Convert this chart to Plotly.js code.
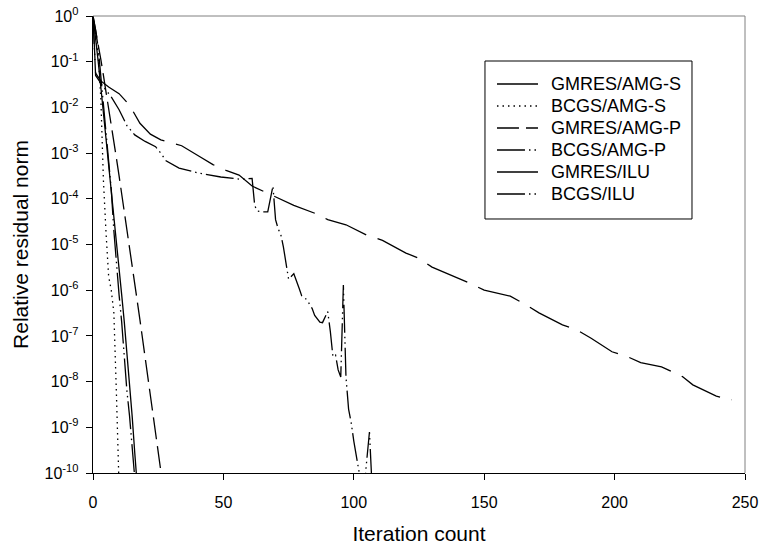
<!DOCTYPE html>
<html>
<head>
<meta charset="utf-8">
<script src="https://cdn.plot.ly/plotly-3.0.1.min.js"></script>
<style>html,body{margin:0;padding:0;background:#fff;}#chart{width:764px;height:554px;}</style>
</head>
<body>
<div id="chart"></div>
<script>
// ---- data ----
var seriesNames = ["GMRES/AMG-S", "BCGS/AMG-S", "GMRES/AMG-P", "BCGS/AMG-P", "GMRES/ILU", "BCGS/ILU"];

var gmresAmgS_x = [0,1,2,3,4,5,6,7,8,9,10,11,12,13,14,15,16,17];
var gmresAmgS_y = [1,3.5e-1,1e-1,2.8e-2,7.9e-3,2.2e-3,6.3e-4,1.6e-4,4.5e-5,1.1e-5,2.8e-6,7.9e-7,2.0e-7,4.5e-8,1.0e-8,1.8e-9,2.8e-10,5e-11];

var bcgsAmgS_x = [0,1,2,3,4,5,6,7,8,9,10];
var bcgsAmgS_y = [1,4e-1,1.4e-1,1.6e-2,2.5e-4,1.8e-5,2e-6,1e-6,3.2e-7,5e-9,5e-11];

var gmresAmgP_x = [0,1,2,3,4,5,6,7,8,9,10,11,12,13,14,15,16,17,18,19,20,21,22,23,24,25,26,27];
var gmresAmgP_y = [1,5.0e-1,2.4e-1,1.12e-1,5.0e-2,2.24e-2,1.0e-2,4.3e-3,1.78e-3,7.6e-4,3.16e-4,1.32e-4,5.5e-5,2.24e-5,8.9e-6,3.55e-6,1.41e-6,5.6e-7,2.24e-7,8.9e-8,3.55e-8,1.35e-8,5.2e-9,2.0e-9,7.6e-10,2.9e-10,1.12e-10,4.3e-11];

var bcgsAmgP_x = [0,1,2,3,4,5,6,7,8,9,10,11,12,13,14,15,16];
var bcgsAmgP_y = [1,5e-1,2e-1,5e-2,1.26e-2,3.2e-3,7.9e-4,1.6e-4,2e-5,3.5e-6,7.9e-7,2e-7,3.2e-8,6.3e-9,1.8e-9,4e-10,7.9e-11];

var gmresIlu_x = [0,1,3,6,10,14,18,22,26,31,34,41,46,51,56,61,65,70,77,86,90,97,105,111,120,125,130,145,150,160,166,171,180,185,191,199,205,210,218,226,230,239,245];
var gmresIlu_y = [1,5.6e-2,3.8e-2,2.8e-2,2.0e-2,1.12e-2,4.5e-3,2.6e-3,1.95e-3,1.6e-3,1.45e-3,8.3e-4,5.6e-4,4.2e-4,3.3e-4,1.9e-4,1.5e-4,1.1e-4,7.2e-5,4.6e-5,3.5e-5,2.7e-5,1.6e-5,1.23e-5,6.5e-6,5.0e-6,3.2e-6,1.38e-6,1.0e-6,7.4e-7,4.8e-7,3.2e-7,1.74e-7,1.41e-7,8.9e-8,4.5e-8,3.5e-8,2.6e-8,2.1e-8,1.29e-8,8.5e-9,4.8e-9,4.0e-9];

var bcgsIlu_x = [0,1,4,7,10,13,16,20,24,26,28,31,33,41,49,56,61,62,63,65,67,69,70,71,72,73,74,75,77,78,79,80,82,84,85,87,88,90,91,92,93,94,95,96,97,98,99,100,102,103,104,106,107];
var bcgsIlu_y = [1,5.0e-2,2.8e-2,1.7e-2,8.9e-3,4e-3,2.5e-3,1.8e-3,1.38e-3,1e-3,6.8e-4,5.5e-4,4.7e-4,3.6e-4,3.0e-4,2.7e-4,2.8e-4,7.1e-5,5.4e-5,5.2e-5,5.2e-5,1.9e-4,3.5e-5,2.2e-5,1.66e-5,8.9e-6,3.8e-6,1.74e-6,2.3e-6,1.66e-6,1.12e-6,7.6e-7,6.2e-7,4e-7,2.8e-7,2.0e-7,1.95e-7,3.4e-7,1.26e-7,3.5e-8,3.8e-8,1.8e-8,1.26e-8,1.3e-6,1.26e-8,2.5e-9,1.26e-9,5e-10,1.12e-10,5e-11,5e-11,7.9e-10,5e-11];

var xTickVals = [0,50,100,150,200,250];
var yTickVals = [1,1e-1,1e-2,1e-3,1e-4,1e-5,1e-6,1e-7,1e-8,1e-9,1e-10];
var yTickText = ["10<sup>0</sup>","10<sup>-1</sup>","10<sup>-2</sup>","10<sup>-3</sup>","10<sup>-4</sup>","10<sup>-5</sup>","10<sup>-6</sup>","10<sup>-7</sup>","10<sup>-8</sup>","10<sup>-9</sup>","10<sup>-10</sup>"];

// ---- styles ----
var dashes = ["solid", "1.5px,4px", "22px,7px", "28px,4px,1.5px,4px,1.5px,4px", "44px,12px", "28px,4px,1.5px,4px,1.5px,4px"];
var xs = [gmresAmgS_x, bcgsAmgS_x, gmresAmgP_x, bcgsAmgP_x, gmresIlu_x, bcgsIlu_x];
var ys = [gmresAmgS_y, bcgsAmgS_y, gmresAmgP_y, bcgsAmgP_y, gmresIlu_y, bcgsIlu_y];

var traces = seriesNames.map(function(n, i){
  return {x: xs[i], y: ys[i], name: n, type: 'scatter', mode: 'lines', showlegend: false,
          line: {color: '#000', width: 1.3, dash: dashes[i]}};
});

var font = "Arial, 'Liberation Sans', sans-serif";

// legend (box, samples, labels) in paper coordinates
var legBox = {x0: 0.6012, x1: 0.9187, y0: 0.5558, y1: 0.9015};
var legRowY = [0.8512, 0.8031, 0.7549, 0.7068, 0.6586, 0.6105];
var legSampleX = [0.6196, 0.6825];
var legTextX = 0.6994;

var shapes = [
  {type: 'line', xref: 'paper', yref: 'paper', x0: 0, x1: 1, y0: 1, y1: 1, line: {color: '#808080', width: 1}},
  {type: 'line', xref: 'paper', yref: 'paper', x0: 1, x1: 1, y0: 0, y1: 1, line: {color: '#808080', width: 1}},
  {type: 'rect', xref: 'paper', yref: 'paper', x0: legBox.x0, x1: legBox.x1, y0: legBox.y0, y1: legBox.y1,
   fillcolor: '#fff', line: {color: '#000', width: 1}, layer: 'above'}
];
var annotations = [];
seriesNames.forEach(function(n, i){
  shapes.push({type: 'line', xref: 'paper', yref: 'paper', x0: legSampleX[0], x1: legSampleX[1],
               y0: legRowY[i], y1: legRowY[i], line: {color: '#000', width: 1.3, dash: dashes[i]}, layer: 'above'});
  annotations.push({xref: 'paper', yref: 'paper', x: legTextX, y: legRowY[i], xanchor: 'left', yanchor: 'middle',
                    text: n, showarrow: false, font: {size: 18, family: font, color: '#000'}});
});

var layout = {
  width: 764, height: 554,
  margin: {l: 93, r: 19, t: 16, b: 81},
  paper_bgcolor: '#fff', plot_bgcolor: '#fff',
  font: {family: font, color: '#000'},
  showlegend: false,
  xaxis: {
    range: [0, 250], tickvals: xTickVals, ticks: 'outside', ticklen: 6, tickwidth: 1, tickcolor: '#000',
    showline: true, linecolor: '#000', linewidth: 1.3, showgrid: false, zeroline: false,
    tickfont: {size: 16, family: font}, ticklabelstandoff: 8,
    title: {text: 'Iteration count', font: {size: 21, family: font}, standoff: 16}
  },
  yaxis: {
    type: 'log', range: [-10, 0], tickvals: yTickVals, ticktext: yTickText,
    ticks: 'outside', ticklen: 6, tickwidth: 1, tickcolor: '#000',
    showline: true, linecolor: '#000', linewidth: 1.3, showgrid: false, zeroline: false,
    tickfont: {size: 16, family: font}, ticklabelstandoff: 4,
    title: {text: 'Relative residual norm', font: {size: 21, family: font}, standoff: 10}
  },
  shapes: shapes,
  annotations: annotations
};

Plotly.newPlot('chart', traces, layout, {displayModeBar: false, staticPlot: true});
</script>
</body>
</html>
